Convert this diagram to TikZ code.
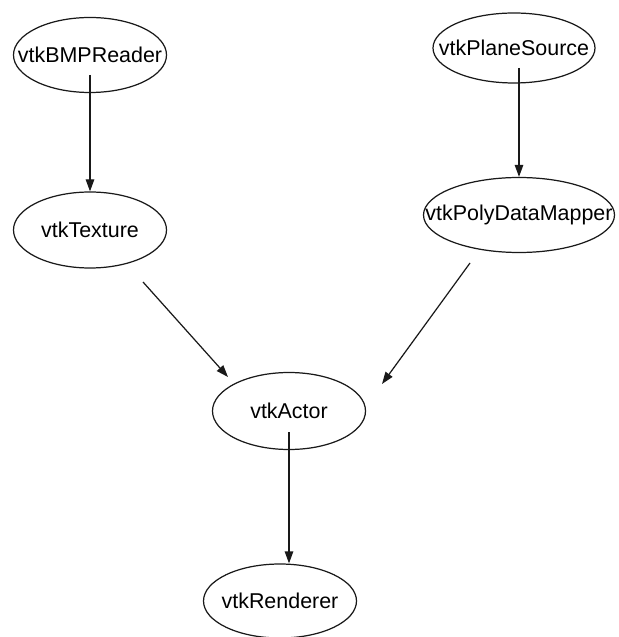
\documentclass[tikz,border=0pt]{standalone}
\usepackage{fontspec}
\setmainfont{Liberation Sans}
\usepackage{tikz}
\usepackage{xcolor}
\definecolor{lineGray}{gray}{0.1}
\usetikzlibrary{shapes.geometric}
\usetikzlibrary{arrows.meta}
\newcommand{\lbl}[1]{\makebox[0pt]{#1}}

\begin{document}
\begin{tikzpicture}[
        vtk/.style={ellipse, draw=lineGray, line width=0.7pt, inner sep=0pt,
          minimum width=3.06cm, minimum height=1.5cm, font=\fontsize{12.2}{14}\selectfont},
        flow/.style={line width=0.7pt, draw=lineGray, -{Triangle[length=0.24cm,width=0.17cm]}}]
        \useasboundingbox (0,0) rectangle (12.36,-12.74);
        \node [vtk] (bmp) at (1.80,-1.10) {\lbl{vtkBMPReader}};
        \node [vtk, minimum height=1.52cm] (tex) at (1.80,-4.60) {\lbl{vtkTexture}};
        \node [vtk, minimum width=3.24cm, minimum height=1.4cm] (pds) at (10.28,-0.96) {\lbl{vtkPlaneSource}};
        \node [vtk, minimum width=3.82cm] (pdm) at (10.38,-4.30) {\lbl{vtkPolyDataMapper}};
        \node [vtk, minimum height=1.54cm] (act) at (5.78,-8.22) {\lbl{vtkActor}};
        \node [vtk, minimum height=1.48cm] (ren) at (5.60,-12.02) {\lbl{vtkRenderer}};
        \draw [flow] ([yshift=-0.4cm]bmp.center) -- (tex.north);
        \draw [flow] ([yshift=-0.4cm]pds.center -| pdm.north) -- (pdm.north);
        \draw [flow] ([shift={(1.06,-1.04)}]tex.center) -- ([shift={(-1.22,0.68)}]act.center);
        \draw [flow] ([shift={(-0.98,-0.96)}]pdm.center) -- ([shift={(1.86,0.54)}]act.center);
        \draw [flow] ([yshift=-0.42cm]act.center) -- (act.center |- ren.north);
      \end{tikzpicture}
\end{document}
